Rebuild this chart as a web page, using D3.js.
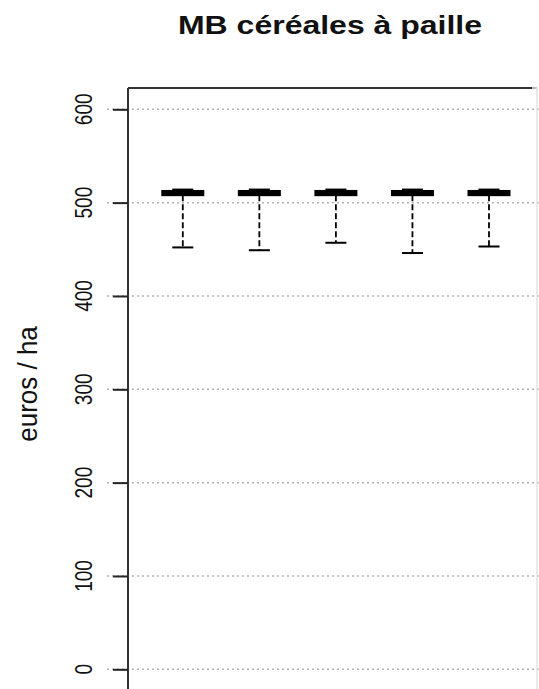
<!DOCTYPE html>
<html>
<head>
<meta charset="utf-8">
<script src="https://cdn.jsdelivr.net/npm/d3@7"></script>
<style>
  html, body { margin: 0; padding: 0; background: #fff; }
  svg { display: block; }
  text { font-family: "Liberation Sans", Arial, sans-serif; fill: #111; }
</style>
</head>
<body>
<div id="chart"></div>
<script>
// ---- data ----
const categories   = ["1", "2", "3", "4", "5"];
const lowWhisker   = [452, 449, 457, 446, 453];
const q1Values     = [508, 508, 508, 508, 508];
const medianValues = [510.5, 510.5, 510.5, 510.5, 510.5];
const q3Values     = [512.5, 512.5, 512.5, 512.5, 512.5];
const highWhisker  = [514, 514, 514, 514, 514];
const yTicks       = [0, 100, 200, 300, 400, 500, 600];
const titleText    = "MB céréales à paille";
const yLabelText   = "euros / ha";

const W = 539, H = 689;
const svg = d3.select("#chart").append("svg").attr("width", W).attr("height", H);

const plot = { left: 128, right: 537, top: 88, bottom: 692 };

const x = d3.scalePoint().domain(categories).range([182.8, 489]);
const y = d3.scaleLinear().domain([0, 600]).range([669.3, 109.3]);

const boxW = 41, stapleW = 21;

// grid lines (dotted)
svg.append("g").selectAll("line").data(yTicks).join("line")
  .attr("x1", 107).attr("x2", W)
  .attr("y1", d => y(d)).attr("y2", d => y(d))
  .attr("stroke", "#b4b4b4").attr("stroke-width", 1.5)
  .attr("stroke-dasharray", "2,3");

// plot frame: left & top dark, right faint (cropped in the source)
svg.append("line").attr("x1", plot.left).attr("x2", plot.left)
  .attr("y1", plot.top).attr("y2", plot.bottom)
  .attr("stroke", "#333").attr("stroke-width", 2);
svg.append("line").attr("x1", plot.left).attr("x2", 532)
  .attr("y1", plot.top).attr("y2", plot.top)
  .attr("stroke", "#333").attr("stroke-width", 2);
svg.append("line").attr("x1", 532).attr("x2", plot.right)
  .attr("y1", plot.top).attr("y2", plot.top)
  .attr("stroke", "#bbb").attr("stroke-width", 2);
svg.append("line").attr("x1", plot.right).attr("x2", plot.right)
  .attr("y1", plot.top).attr("y2", plot.bottom)
  .attr("stroke", "#e2e2e2").attr("stroke-width", 1.5);

// y axis with d3
const yAxis = d3.axisLeft(y).tickValues(yTicks).tickSize(15).tickFormat("");
const gAxis = svg.append("g").attr("transform", `translate(${plot.left},0)`).call(yAxis);
gAxis.select(".domain").remove();
gAxis.selectAll(".tick line").attr("stroke", "#222").attr("stroke-width", 2);

// rotated tick labels
svg.append("g").selectAll("text").data(yTicks).join("text")
  .attr("transform", d => `translate(92,${y(d)}) scale(1.28,1) rotate(-90)`)
  .attr("text-anchor", "middle")
  .style("font-size", "19px")
  .attr("fill", "#222")
  .text(d => d);

// y label
svg.append("text")
  .attr("transform", `translate(37,384) scale(1.05,1) rotate(-90)`)
  .attr("text-anchor", "middle")
  .style("font-size", "26px")
  .attr("fill", "#222")
  .text(yLabelText);

// title
svg.append("text")
  .attr("transform", `translate(330,34) scale(1.28,1)`)
  .attr("text-anchor", "middle")
  .style("font-size", "25px")
  .style("font-weight", "bold")
  .text(titleText);

// boxes
const boxes = categories.map((c, i) => ({
  c, lo: lowWhisker[i], q1: q1Values[i], med: medianValues[i], q3: q3Values[i], hi: highWhisker[i]
}));

const g = svg.append("g").selectAll("g").data(boxes).join("g");

// lower whisker (dashed)
g.append("line")
  .attr("x1", d => x(d.c)).attr("x2", d => x(d.c))
  .attr("y1", d => y(d.q1)).attr("y2", d => y(d.lo))
  .attr("stroke", "#000").attr("stroke-width", 1.8)
  .attr("stroke-dasharray", "6,3");
// upper whisker
g.append("line")
  .attr("x1", d => x(d.c)).attr("x2", d => x(d.c))
  .attr("y1", d => y(d.q3)).attr("y2", d => y(d.hi))
  .attr("stroke", "#000").attr("stroke-width", 1.8);
// staples
g.append("line")
  .attr("x1", d => x(d.c) - stapleW / 2).attr("x2", d => x(d.c) + stapleW / 2)
  .attr("y1", d => y(d.lo)).attr("y2", d => y(d.lo))
  .attr("stroke", "#000").attr("stroke-width", 2);
g.append("line")
  .attr("x1", d => x(d.c) - stapleW / 2).attr("x2", d => x(d.c) + stapleW / 2)
  .attr("y1", d => y(d.hi)).attr("y2", d => y(d.hi))
  .attr("stroke", "#000").attr("stroke-width", 2);
// box
g.append("rect")
  .attr("x", d => x(d.c) - boxW / 2).attr("width", boxW)
  .attr("y", d => y(d.q3)).attr("height", d => y(d.q1) - y(d.q3))
  .attr("fill", "#fff").attr("stroke", "#000").attr("stroke-width", 2);
// median
g.append("line")
  .attr("x1", d => x(d.c) - boxW / 2).attr("x2", d => x(d.c) + boxW / 2)
  .attr("y1", d => y(d.med)).attr("y2", d => y(d.med))
  .attr("stroke", "#000").attr("stroke-width", 5);
</script>
</body>
</html>
